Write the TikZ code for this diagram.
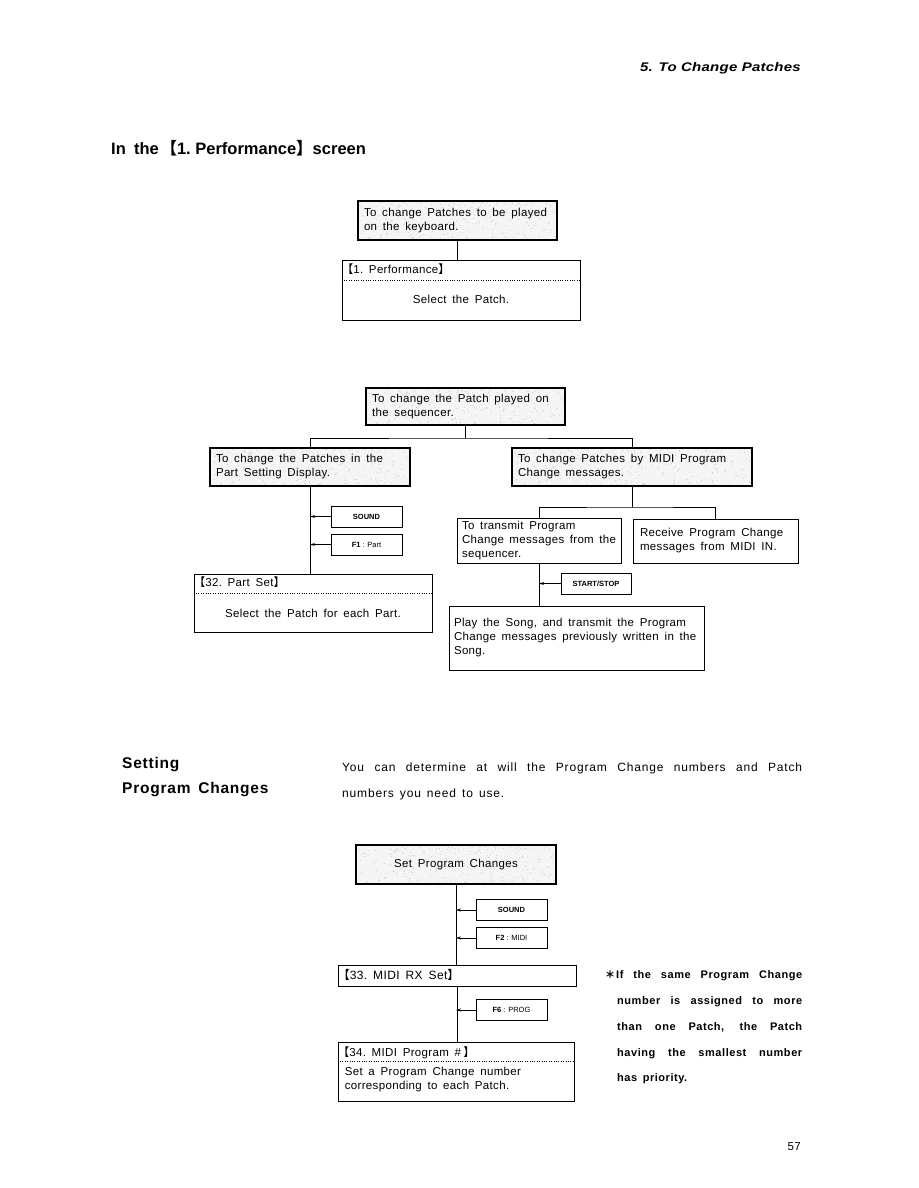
\documentclass[tikz,border=0pt]{standalone}
\usepackage{fontspec}
\setmainfont{Liberation Sans}
\newfontfamily\bx{Liberation Sans}[LetterSpace=3]
\newfontfamily\bxw{Liberation Sans}[LetterSpace=7]
\newfontfamily\bxb{Liberation Sans}[LetterSpace=5]
\newfontfamily\hdfont{Liberation Sans}[FakeStretch=1.2, LetterSpace=2]
\newfontfamily\cjk{Noto Sans CJK JP}
\usetikzlibrary{arrows.meta,calc}
\newcommand{\lbk}{{\cjk 【}}
\newcommand{\rbk}{{\cjk 】}}
\newcommand{\widesp}{\spaceskip=0.5em plus 0.2em minus 0.05em\relax}
\tikzset{
  txt/.style={font=\bx\fontsize{11.5}{14}\selectfont, execute at begin node=\widesp},
  plainbox/.style={draw, line width=0.8pt, txt, inner xsep=6pt, inner ysep=3pt, align=left},
  shadebox/.style={draw, line width=1.8pt, fill=gray!8, txt, inner xsep=6pt, inner ysep=3pt, align=left,
    path picture={
      \pgfmathsetseed{17}
      \path let \p1=(path picture bounding box.south west), \p2=(path picture bounding box.north east) in
        \pgfextra{\xdef\bxA{\x1}\xdef\byA{\y1}\xdef\bxB{\x2}\xdef\byB{\y2}};
      \foreach \k in {1,...,260}{
        \pgfmathsetmacro\rx{\bxA+rnd*(\bxB-\bxA)}
        \pgfmathsetmacro\ry{\byA+rnd*(\byB-\byA)}
        \fill[gray!55] (\rx pt,\ry pt) circle[radius=0.45pt];
      }
    }},
  keybox/.style={draw, line width=0.8pt, minimum width=71pt, minimum height=21pt, inner sep=1pt, font=\fontsize{7.5}{8}\selectfont},
  conn/.style={line width=0.8pt},
  keyarrow/.style={line width=0.8pt, -{Stealth[length=5pt,width=3pt]}},
  sepline/.style={line width=0.6pt, dash pattern=on 1pt off 1.4pt},
  ttl/.style={txt, anchor=base west, inner sep=0pt}
}
\begin{document}
\begin{tikzpicture}[x=1pt,y=-1pt]
\useasboundingbox (0,0) rectangle (918,1188);
\fill[white] (0,0) rectangle (918,1188);

% page header
\node[anchor=base east, inner sep=0pt, font=\hdfont\bfseries\itshape\fontsize{12.5}{14}\selectfont] (hdr) at (801,72) {5. To Change Patches};
\node[anchor=base west, inner sep=0pt, font=\bfseries\fontsize{16.5}{20}\selectfont] (h1) at (111,154) {In\enspace the\kern0.1em\lbk 1.\ Performance\rbk screen};

% --- keyboard
\node[shadebox, minimum width=199pt, minimum height=39pt, text width=187pt] (a) at (457.5,220.5) {To change Patches to be played\\on the keyboard.};
\node[plainbox, minimum width=238pt, minimum height=60pt] (b) at (461,290) {};
\node[ttl] (bt) at ($(b.north west)+(0,14)$) {\lbk 1.\ Performance\rbk};
\draw[sepline] ($(b.north west)+(0,21)$) -- ($(b.north east)+(0,21)$);
\node[txt, inner sep=0pt] (bb) at (461,299) {Select the Patch.};
\draw[conn] (a.south) -- (a.south |- b.north);

% --- sequencer
\node[shadebox, minimum width=199pt, minimum height=37pt, text width=187pt] (c) at (465.5,406.5) {To change the Patch played on\\the sequencer.};
\node[shadebox, minimum width=200pt, minimum height=38pt, text width=188pt] (d) at (310,467) {To change the Patches in the\\Part Setting Display.};
\node[shadebox, minimum width=240pt, minimum height=38pt, text width=228pt] (e) at (632,467) {To change Patches by MIDI Program\\Change messages.};
\coordinate (j1) at (465.5,438);
\draw[conn] (c.south) -- (j1);
\draw[conn] (d.north) |- (j1) -| (e.north);

\node[keybox] (k1) at (366.5,516.5) {\bfseries SOUND};
\node[keybox] (k2) at (366.5,544.5) {\textbf{F1} : Part};
\node[plainbox, minimum width=238pt, minimum height=58pt] (ps) at (313,603) {};
\node[ttl] (pst) at ($(ps.north west)+(0,13)$) {\lbk 32.\ Part Set\rbk};
\draw[sepline] ($(ps.north west)+(0,20)$) -- ($(ps.north east)+(0,20)$);
\node[txt, inner sep=0pt] (psb) at (313,613) {Select the Patch for each Part.};
\draw[conn] (d.south) -- (d.south |- ps.north);
\draw[keyarrow] (k1.west) -- (d.south |- k1.west);
\draw[keyarrow] (k2.west) -- (d.south |- k2.west);

\node[plainbox, minimum width=164pt, minimum height=45pt, text width=154pt, inner xsep=5pt, inner ysep=2pt, font=\bx\fontsize{11.5}{13.8}\selectfont] (f) at (539,540.5) {To transmit Program\\Change messages from the\\sequencer.};
\node[plainbox, minimum width=165pt, minimum height=44pt, text width=151pt, inner xsep=7pt] (g) at (715.5,541) {Receive Program Change\\messages from MIDI IN.};
\coordinate (j2) at (632,507);
\draw[conn] (e.south) -- (j2);
\draw[conn] (f.north) |- (j2) -| (g.north);

\node[keybox, minimum width=70pt] (ss) at (596,583.5) {\bfseries START/STOP};
\node[plainbox, minimum width=255pt, minimum height=64pt, text width=245pt, inner xsep=5pt] (p) at (576.5,638) {Play the Song, and transmit the Program\\Change messages previously written in the\\Song.};
\draw[conn] (f.south) -- (f.south |- p.north);
\draw[keyarrow] (ss.west) -- (f.south |- ss.west);

% --- Setting Program Changes
\node[anchor=base west, inner sep=0pt, font=\bxb\bfseries\fontsize{15.5}{18}\selectfont] (s1) at (122,768) {Setting};
\node[anchor=base west, inner sep=0pt, font=\bxb\bfseries\fontsize{15.5}{18}\selectfont] (s2) at (122,793) {Program\enspace Changes};
\node[anchor=base west, inner sep=0pt, font=\bxw\fontsize{12}{14}\selectfont] (i1) at (342,771) {\makebox[460pt][s]{You can determine at will the Program Change numbers and Patch}};
\node[anchor=base west, inner sep=0pt, font=\bxw\fontsize{12}{14}\selectfont, execute at begin node=\widesp] (i2) at (342,797) {numbers you need to use.};

\node[shadebox, minimum width=200pt, minimum height=39pt, align=center] (hh) at (456,864.5) {Set Program Changes};
\node[keybox] (k3) at (511.5,910) {\bfseries SOUND};
\node[keybox] (k4) at (511.5,938) {\textbf{F2} : MIDI};
\node[plainbox, minimum width=238pt, minimum height=21pt, inner ysep=0pt] (m33) at (457,975.5) {};
\node[ttl, font=\bx\fontsize{12}{14}\selectfont] (m33t) at ($(m33.north west)+(0,15)$) {\lbk 33.\ MIDI RX Set\rbk};
\node[keybox] (k5) at (511.5,1010) {\textbf{F6} : PROG};
\node[plainbox, minimum width=236pt, minimum height=59pt] (m34) at (456,1071.5) {};
\node[ttl] (m34t) at ($(m34.north west)+(0,15)$) {\lbk 34.\ MIDI Program \#\kern0.2em\rbk};
\draw[sepline] ($(m34.north west)+(0,20)$) -- ($(m34.north east)+(0,20)$);
\node[txt, anchor=north west, align=left, inner sep=0pt] (m34b) at ($(m34.north west)+(7,25)$) {Set a Program Change number\\corresponding to each Patch.};
\draw[conn] (hh.south) -- (hh.south |- m33.north);
\draw[conn] (m33.south) -- (m33.south |- m34.north);
\draw[keyarrow] (k3.west) -- (hh.south |- k3.west);
\draw[keyarrow] (k4.west) -- (hh.south |- k4.west);
\draw[keyarrow] (k5.west) -- (hh.south |- k5.west);

% note
\begin{scope}[every node/.style={anchor=base west, inner sep=0pt, font=\bxb\bfseries\fontsize{11}{12}\selectfont}]
\node (n1) at (606,978) {\makebox[196pt][s]{\makebox[10pt][l]{\cjk\fontsize{10}{12}\selectfont\kern-1pt ＊}If the same Program Change}};
\node (n2) at (617,1004) {\makebox[185pt][s]{number is assigned to more}};
\node (n3) at (617,1030) {\makebox[185pt][s]{than one Patch, the Patch}};
\node (n4) at (617,1056) {\makebox[185pt][s]{having the smallest number}};
\node (n5) at (617,1081) {has\enspace priority.};
\end{scope}

\node[anchor=base east, inner sep=0pt, txt] (pg) at (801,1150) {57};
\end{tikzpicture}
\end{document}
